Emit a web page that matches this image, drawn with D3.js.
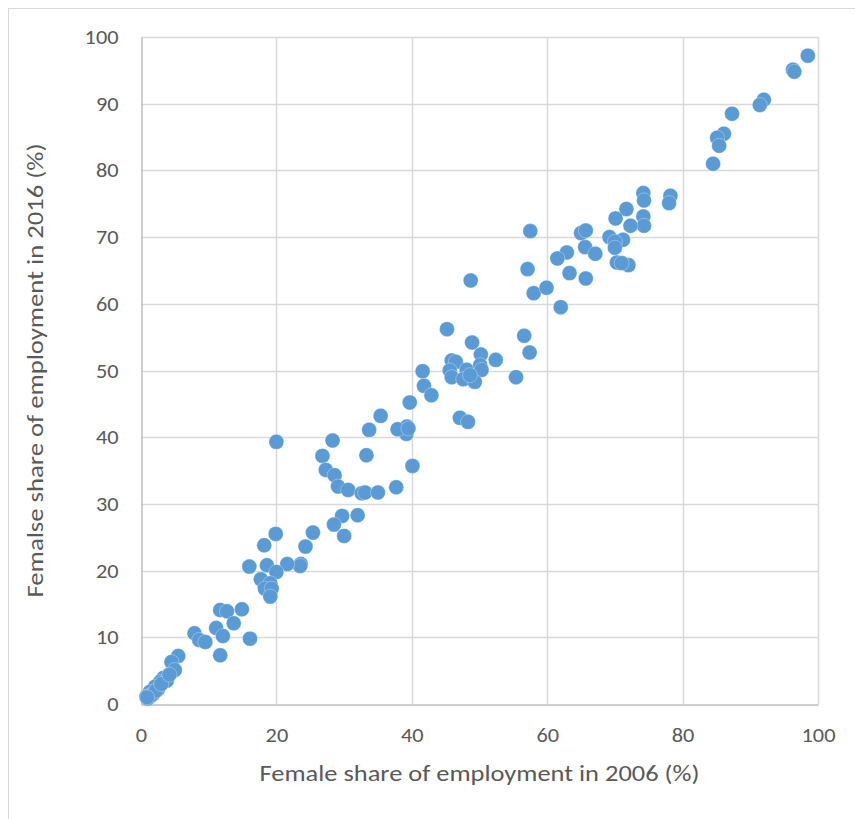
<!DOCTYPE html>
<html><head><meta charset="utf-8">
<script src="https://cdn.jsdelivr.net/npm/d3@7"></script>
<style>body{margin:0;background:#fff;} text{font-family:Calibri,Carlito,"Open Sans",Arial,sans-serif;}</style>
</head><body>
<svg id="c" width="855" height="819"></svg>
<script>
const xTicks=[0,20,40,60,80,100];
const yTicks=[0,10,20,30,40,50,60,70,80,90,100];
const xTitle="Female share of employment in 2006 (%)";
const yTitle="Femalse share of employment in 2016 (%)";
const x2006=[98.5,96.3,96.5,92.0,91.4,87.3,86.1,85.1,85.4,84.5,
74.2,74.3,78.2,78.0,71.7,70.1,74.2,74.3,72.3,57.5,65.0,65.7,69.2,71.2,70.0,70.0,65.6,67.1,62.9,61.5,70.3,72.0,71.0,57.1,63.3,65.7,58.0,59.9,62.0,
48.7,45.2,56.6,57.4,48.9,50.2,52.4,45.9,46.5,45.6,48.1,50.1,50.3,45.9,47.6,49.3,48.6,55.4,41.6,41.8,42.9,39.7,47.1,48.3,39.3,39.2,
20.0,28.3,26.8,33.3,33.7,35.4,37.9,39.5,40.1,27.3,28.6,29.1,30.6,32.6,33.1,35.0,37.7,29.7,32.0,28.5,30.0,19.9,18.2,25.4,24.3,23.6,23.5,21.6,
16.0,18.6,20.0,17.7,19.1,18.3,19.3,19.1,11.7,12.7,14.9,13.7,11.1,12.1,7.9,8.6,9.5,16.1,11.7,5.5,4.5,5.0,3.3,2.8,2.1,1.3,0.8,
3.8,2.5,1.8,1.0,1.5,2.2,3.0,0.9,4.2];
const y2016=[97.2,95.1,94.8,90.6,89.8,88.5,85.5,84.9,83.7,81.0,
76.6,75.5,76.2,75.1,74.2,72.8,73.1,71.7,71.7,70.9,70.6,71.0,70.0,69.6,69.3,68.4,68.5,67.5,67.7,66.8,66.2,65.8,66.1,65.2,64.6,63.8,61.6,62.4,59.5,
63.5,56.2,55.2,52.7,54.2,52.4,51.6,51.5,51.3,50.0,50.1,50.8,50.1,49.0,48.7,48.3,49.3,49.0,49.9,47.7,46.3,45.2,42.9,42.3,41.6,40.5,
39.3,39.5,37.2,37.3,41.1,43.2,41.2,41.3,35.7,35.1,34.3,32.6,32.1,31.6,31.7,31.7,32.5,28.2,28.3,26.9,25.2,25.5,23.8,25.7,23.6,21.0,20.7,21.0,
20.6,20.8,19.8,18.7,18.1,17.3,17.3,16.1,14.1,13.9,14.2,12.1,11.4,10.2,10.6,9.6,9.3,9.8,7.3,7.2,6.3,5.1,3.9,3.3,2.6,1.8,1.1,
3.5,2.2,1.5,0.8,1.3,2.0,3.0,1.0,4.4];

const svg=d3.select("#c");
// outer frame
svg.append("rect").attr("x",8.5).attr("y",8.5).attr("width",860).attr("height",830)
  .attr("fill","#fff").attr("stroke","#d9d9d9").attr("stroke-width",1);

const L=141,R=818,T=37,B=704;
const x=d3.scaleLinear().domain([0,100]).range([L,R]);
const y=d3.scaleLinear().domain([0,100]).range([B,T]);

const g=svg.append("g");
g.selectAll(".vg").data(xTicks.slice(1)).join("line")
  .attr("x1",d=>Math.round(x(d))+0.5).attr("x2",d=>Math.round(x(d))+0.5)
  .attr("y1",T).attr("y2",B).attr("stroke","#d9d9d9").attr("stroke-width",1.5);
g.selectAll(".hg").data(yTicks.slice(1)).join("line")
  .attr("y1",d=>Math.round(y(d))+0.5).attr("y2",d=>Math.round(y(d))+0.5)
  .attr("x1",L).attr("x2",R).attr("stroke","#d9d9d9").attr("stroke-width",1.5);

const xa=svg.append("g").attr("transform",`translate(0,${B+0.5})`)
  .call(d3.axisBottom(x).tickValues(xTicks).tickSize(0).tickPadding(23));
const ya=svg.append("g").attr("transform",`translate(${L+0.5},0)`)
  .call(d3.axisLeft(y).tickValues(yTicks).tickSize(0).tickPadding(23));
[xa,ya].forEach(a=>{
  a.select(".domain").attr("stroke","#bfbfbf").attr("stroke-width",1.5);
  a.selectAll("text").attr("fill","#595959").style("font-size","20px")
   .attr("textLength",d=>String(d).length*11.3).attr("lengthAdjust","spacingAndGlyphs");
});
ya.selectAll("text").attr("dy","6.5");

svg.append("g").selectAll("circle").data(x2006.map((v,i)=>[v,y2016[i]])).join("circle")
  .attr("cx",d=>x(d[0])).attr("cy",d=>y(d[1])).attr("r",7.5)
  .attr("fill","#5b9bd5").attr("stroke","#ffffff").attr("stroke-opacity",0.5).attr("stroke-width",0.6);

svg.append("text").attr("x",(L+R)/2).attr("y",781).attr("text-anchor","middle")
  .attr("fill","#595959").style("font-size","23px")
  .attr("textLength",440).attr("lengthAdjust","spacingAndGlyphs").text(xTitle);
svg.append("text").attr("transform",`translate(43,${(T+B)/2}) rotate(-90)`).attr("text-anchor","middle")
  .attr("fill","#595959").style("font-size","23px")
  .attr("textLength",454).attr("lengthAdjust","spacingAndGlyphs").text(yTitle);
</script>
</body></html>
